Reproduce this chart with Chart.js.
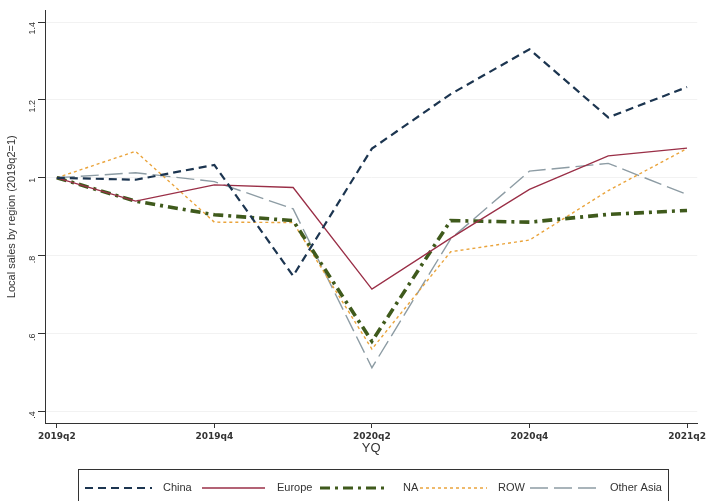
<!DOCTYPE html>
<html>
<head>
<meta charset="utf-8">
<script src="https://cdn.jsdelivr.net/npm/chart.js@4"></script>
<style>
  html, body { margin: 0; padding: 0; background: #fff; }
  #wrap { width: 709px; height: 501px; }
</style>
</head>
<body>
<div id="wrap"><canvas id="salesChart" width="709" height="501"></canvas></div>
<script>
const quarters = ['2019q2', '2019q3', '2019q4', '2020q1', '2020q2', '2020q3', '2020q4', '2021q1', '2021q2'];
const china = [1, 0.995, 1.033, 0.748, 1.075, 1.215, 1.33, 1.155, 1.233];
const europe = [1, 0.94, 0.982, 0.975, 0.714, 0.845, 0.97, 1.056, 1.076];
const na = [1, 0.94, 0.905, 0.89, 0.58, 0.89, 0.886, 0.906, 0.916];
const row = [1, 1.068, 0.886, 0.885, 0.56, 0.81, 0.84, 0.967, 1.075];
const otherAsia = [1, 1.013, 0.99, 0.92, 0.512, 0.843, 1.017, 1.037, 0.957];

const xTickPos = [0, 2, 4, 6, 8];
const yTickVals = [0.4, 0.6, 0.8, 1, 1.2, 1.4];
const yTickLabels = ['.4', '.6', '.8', '1', '1.2', '1.4'];

const series = [
    { label: 'China', data: china, color: '#1c3550', width: 2.2, dash: [8, 5] },
    { label: 'Europe', data: europe, color: '#9a2f47', width: 1.3, dash: [] },
    { label: 'NA', data: na, color: '#3f5a1c', width: 3.6, dash: [10, 5, 3, 5] },
    { label: 'ROW', data: row, color: '#eaa43c', width: 1.4, dash: [3, 3] },
    { label: 'Other Asia', data: otherAsia, color: '#8d9ca4', width: 1.4, dash: [18, 6] }
];

// legend is drawn by hand so the line keys keep their dash patterns
const stataLegend = {
    id: 'stataLegend',
    afterDraw(chart) {
        const ctx = chart.ctx;
        ctx.save();
        ctx.strokeStyle = '#333';
        ctx.lineWidth = 1;
        ctx.setLineDash([]);
        ctx.strokeRect(78.5, 469.5, 590, 40);

        const keys = [
            { x0: 85, x1: 152, tx: 163 },
            { x0: 202, x1: 265, tx: 277 },
            { x0: 320, x1: 387, tx: 403 },
            { x0: 420, x1: 487, tx: 498 },
            { x0: 530, x1: 597, tx: 610 }
        ];
        const y = 488;
        ctx.font = '11px "Liberation Sans", Arial, sans-serif';
        ctx.textBaseline = 'middle';
        series.forEach((s, i) => {
            const k = keys[i];
            ctx.beginPath();
            ctx.strokeStyle = s.color;
            ctx.lineWidth = Math.min(s.width, 3);
            ctx.setLineDash(s.dash);
            ctx.moveTo(k.x0, y);
            ctx.lineTo(k.x1, y);
            ctx.stroke();
            ctx.fillStyle = '#333';
            ctx.fillText(s.label, k.tx, y);
        });
        ctx.restore();
    }
};

const ctx = document.getElementById('salesChart').getContext('2d');
new Chart(ctx, {
    type: 'line',
    data: {
        datasets: series.map(s => ({
            label: s.label,
            data: s.data.map((v, i) => ({ x: i, y: v })),
            borderColor: s.color,
            backgroundColor: s.color,
            borderWidth: s.width,
            borderDash: s.dash,
            pointRadius: 0,
            tension: 0,
            fill: false
        }))
    },
    options: {
        responsive: false,
        animation: false,
        layout: { padding: { top: 5, right: 7, left: 0, bottom: 0 } },
        plugins: {
            legend: { display: false },
            tooltip: { enabled: false }
        },
        scales: {
            x: {
                type: 'linear',
                min: -0.15,
                max: 8.13,
                afterBuildTicks: s => { s.ticks = xTickPos.map(v => ({ value: v })); },
                afterFit: s => { s.height = 78; },
                ticks: {
                    color: '#333',
                    font: { family: '"DejaVu Sans", Verdana, sans-serif', size: 9, weight: 'bold' },
                    padding: 3,
                    maxRotation: 0,
                    callback: v => quarters[v]
                },
                grid: { drawOnChartArea: false, tickLength: 5, tickColor: '#333' },
                border: { color: '#333', width: 1 },
                title: {
                    display: true,
                    text: 'YQ',
                    color: '#333',
                    font: { family: '"Liberation Sans", Arial, sans-serif', size: 13 },
                    padding: { top: 0, bottom: 45 }
                }
            },
            y: {
                min: 0.37,
                max: 1.43,
                afterBuildTicks: s => { s.ticks = yTickVals.map(v => ({ value: v })); },
                afterFit: s => { s.width = 45; },
                ticks: {
                    color: '#333',
                    font: { family: '"Liberation Sans", Arial, sans-serif', size: 9 },
                    padding: 5,
                    minRotation: 90,
                    maxRotation: 90,
                    callback: v => yTickLabels[yTickVals.indexOf(v)]
                },
                grid: { color: '#f2f2f2', tickLength: 7, tickColor: '#333' },
                border: { color: '#333', width: 1 },
                title: {
                    display: true,
                    text: 'Local sales by region (2019q2=1)',
                    color: '#333',
                    font: { family: '"Liberation Sans", Arial, sans-serif', size: 11 },
                    padding: { top: 5, bottom: 0 }
                }
            }
        }
    },
    plugins: [stataLegend]
});
</script>
</body>
</html>
